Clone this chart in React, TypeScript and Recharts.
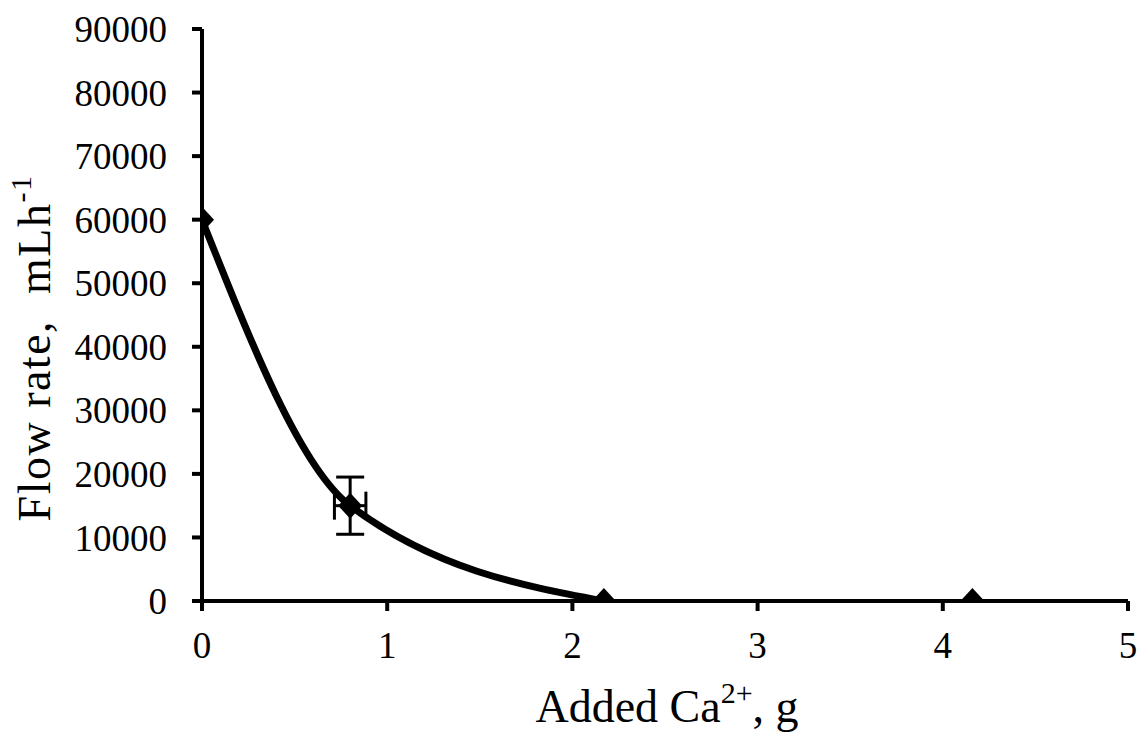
import React from "react";
import { ComposedChart, Line, Scatter, XAxis, YAxis, ErrorBar, Label } from "recharts";

const addedCa = [0, 0.8, 2.17, 4.16];
const flowRate = [60000, 15000, 0, 0];
const errX = [0, 0.085, 0, 0];
const errY = [0, 4500, 0, 0];
const curveCount = 3; // the fitted curve runs through the first three points
const xTicks = [0, 1, 2, 3, 4, 5];
const yTicks = [0, 10000, 20000, 30000, 40000, 50000, 60000, 70000, 80000, 90000];

const points = addedCa.map((x, i) => ({ x, y: flowRate[i], ex: errX[i], ey: errY[i] }));
const curve = points.slice(0, curveCount);
const errPoints = points.filter((p) => p.ex > 0 || p.ey > 0);

const FONT = "'Liberation Serif', 'Times New Roman', serif";

const Diamond = (props: any) => {
  const { cx, cy } = props;
  if (cx == null || cy == null) return null;
  const hw = 12;
  const hh = 13;
  return (
    <polygon
      points={`${cx - hw},${cy} ${cx},${cy - hh} ${cx + hw},${cy} ${cx},${cy + hh}`}
      fill="#000"
      stroke="none"
    />
  );
};

const Nothing = () => <g />;

const YTitle = () => (
  <text
    transform="translate(50,348) rotate(-90)"
    textAnchor="middle"
    fontFamily={FONT}
    fontSize={46}
    letterSpacing={1.5}
    fill="#000"
    style={{ whiteSpace: "pre" }}
  >
    <tspan>Flow rate,  mLh</tspan>
    <tspan fontSize={30} dy={-19}>-1</tspan>
  </text>
);

const XTitle = () => (
  <text x={667} y={722} textAnchor="middle" fontFamily={FONT} fontSize={46} fill="#000" style={{ whiteSpace: "pre" }}>
    <tspan>Added Ca</tspan>
    <tspan fontSize={30} dy={-19}>2+</tspan>
    <tspan dy={19}>, g</tspan>
  </text>
);

export default function App() {
  return (
    <div style={{ position: "absolute", left: 0, top: 0, background: "#fff" }}>
      <ComposedChart
        width={1143}
        height={741}
        margin={{ top: 29, right: 15, left: 0, bottom: 0 }}
      >
        <XAxis
          dataKey="x"
          type="number"
          domain={[0, 5]}
          ticks={xTicks}
          allowDataOverflow
          height={140}
          axisLine={{ stroke: "#000", strokeWidth: 4 }}
          tickLine={{ stroke: "#000", strokeWidth: 4 }}
          tickSize={10}
          tickMargin={21}
          tick={{ fill: "#000", fontSize: 37, fontFamily: FONT }}
        >
          <Label content={<XTitle />} />
        </XAxis>
        <YAxis
          dataKey="y"
          type="number"
          domain={[0, 90000]}
          ticks={yTicks}
          allowDataOverflow
          width={202}
          axisLine={{ stroke: "#000", strokeWidth: 4 }}
          tickLine={{ stroke: "#000", strokeWidth: 4 }}
          tickSize={10}
          tickMargin={25}
          tick={{ fill: "#000", fontSize: 37, fontFamily: FONT }}
        >
          <Label content={<YTitle />} />
        </YAxis>
        <Scatter data={errPoints} dataKey="y" shape={<Nothing />} isAnimationActive={false}>
          <ErrorBar dataKey="ey" direction="y" width={14} stroke="#000" strokeWidth={3} isAnimationActive={false} />
          <ErrorBar dataKey="ex" direction="x" width={14} stroke="#000" strokeWidth={3} isAnimationActive={false} />
        </Scatter>
        <Line
          data={curve}
          dataKey="y"
          type="monotone"
          stroke="#000"
          strokeWidth={7}
          dot={false}
          activeDot={false}
          isAnimationActive={false}
        />
        <Scatter data={points} dataKey="y" shape={<Diamond />} isAnimationActive={false} />
      </ComposedChart>
    </div>
  );
}
